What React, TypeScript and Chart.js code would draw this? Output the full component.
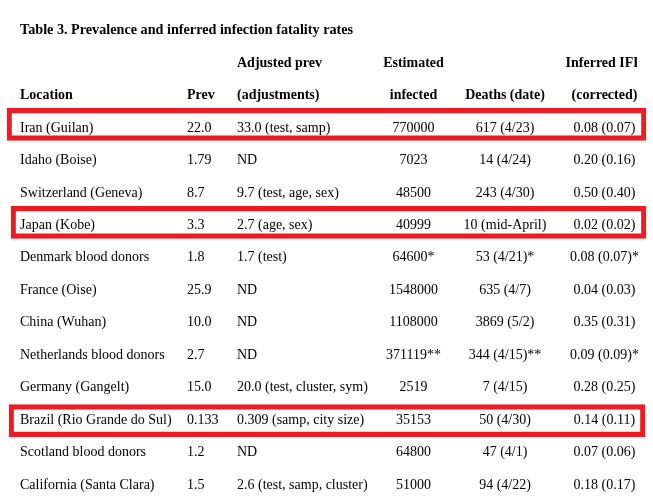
import React, { useEffect, useRef } from "react";
import { Chart, registerables } from "chart.js";

Chart.register(...registerables);

const title = "Table 3. Prevalence and inferred infection fatality rates";

const headerTop = ["", "", "Adjusted prev", "Estimated", "", "Inferred IFR"];
const headerBottom = ["Location", "Prev", "(adjustments)", "infected", "Deaths (date)", "(corrected)"];

const locations = [
  "Iran (Guilan)",
  "Idaho (Boise)",
  "Switzerland (Geneva)",
  "Japan (Kobe)",
  "Denmark blood donors",
  "France (Oise)",
  "China (Wuhan)",
  "Netherlands blood donors",
  "Germany (Gangelt)",
  "Brazil (Rio Grande do Sul)",
  "Scotland blood donors",
  "California (Santa Clara)",
];
const prevalence = ["22.0", "1.79", "8.7", "3.3", "1.8", "25.9", "10.0", "2.7", "15.0", "0.133", "1.2", "1.5"];
const adjustedPrev = [
  "33.0 (test, samp)",
  "ND",
  "9.7 (test, age, sex)",
  "2.7 (age, sex)",
  "1.7 (test)",
  "ND",
  "ND",
  "ND",
  "20.0 (test, cluster, sym)",
  "0.309 (samp, city size)",
  "ND",
  "2.6 (test, samp, cluster)",
];
const estimatedInfected = ["770000", "7023", "48500", "40999", "64600*", "1548000", "1108000", "371119**", "2519", "35153", "64800", "51000"];
const deathsDate = [
  "617 (4/23)",
  "14 (4/24)",
  "243 (4/30)",
  "10 (mid-April)",
  "53 (4/21)*",
  "635 (4/7)",
  "3869 (5/2)",
  "344 (4/15)**",
  "7 (4/15)",
  "50 (4/30)",
  "47 (4/1)",
  "94 (4/22)",
];
const inferredIFR = [
  "0.08 (0.07)",
  "0.20 (0.16)",
  "0.50 (0.40)",
  "0.02 (0.02)",
  "0.08 (0.07)*",
  "0.04 (0.03)",
  "0.35 (0.31)",
  "0.09 (0.09)*",
  "0.28 (0.25)",
  "0.14 (0.11)",
  "0.07 (0.06)",
  "0.18 (0.17)",
];

// highlighted rows (row index in the full table incl. title + 2 header rows)
const highlightRows = [2.89, 5.91, 12.02];
const highlightSpans: [number, number][] = [
  [7, 646],
  [11, 646],
  [9, 645],
];

// layout (not data)
const columnX = [20, 187, 237, 413.5, 505, 604.5];
const columnAlign: CanvasTextAlign[] = ["left", "left", "left", "center", "center", "center"];
const ROW0 = 30.6;
const ROW_H = 32.45;
const W = 653;
const H = 499;
const FONT = '"Liberation Serif", "Times New Roman", serif';
const RED = "rgb(237,28,36)";

const tablePlugin = {
  id: "tableText",
  afterDraw(chart: any) {
    const { ctx } = chart;
    const xs = chart.scales.x;
    const ys = chart.scales.y;
    ctx.save();
    ctx.fillStyle = "#000";
    ctx.textBaseline = "middle";

    // title
    ctx.font = `bold 14.2px ${FONT}`;
    ctx.textAlign = "left";
    ctx.fillText(title, xs.getPixelForValue(columnX[0]), ys.getPixelForValue(0));

    // header rows
    ctx.font = `bold 14px ${FONT}`;
    for (let c = 0; c < columnX.length; c++) {
      ctx.textAlign = columnAlign[c];
      const px = xs.getPixelForValue(columnX[c]);
      if (headerTop[c]) {
        ctx.save();
        ctx.beginPath();
        ctx.rect(0, 0, 637, H);
        ctx.clip();
        ctx.fillText(headerTop[c], px, ys.getPixelForValue(1));
        ctx.restore();
      }
      if (headerBottom[c]) ctx.fillText(headerBottom[c], px, ys.getPixelForValue(2));
    }

    // body
    ctx.font = `14px ${FONT}`;
    const cols = [locations, prevalence, adjustedPrev, estimatedInfected, deathsDate, inferredIFR];
    for (let c = 0; c < cols.length; c++) {
      ctx.textAlign = columnAlign[c];
      const px = xs.getPixelForValue(columnX[c]);
      cols[c].forEach((txt, r) => {
        ctx.fillText(txt, px, ys.getPixelForValue(r + 3));
      });
    }
    ctx.restore();
  },
};

export default function App() {
  const canvasRef = useRef<HTMLCanvasElement>(null);

  useEffect(() => {
    if (!canvasRef.current) return;
    const yMin = -ROW0 / ROW_H;
    const yMax = yMin + H / ROW_H;
    const chart = new Chart(canvasRef.current, {
      type: "bar",
      data: {
        datasets: [
          {
            data: highlightRows.map((r, i) => ({ y: r, x: highlightSpans[i] })) as any,
            backgroundColor: "rgba(0,0,0,0)",
            borderColor: RED,
            borderWidth: 4.5,
            borderSkipped: false,
            barThickness: 32,
          },
        ],
      },
      options: {
        indexAxis: "y",
        animation: false,
        responsive: true,
        maintainAspectRatio: false,
        layout: { padding: 0 },
        events: [],
        scales: {
          x: { type: "linear", min: 0, max: W, display: false, offset: false },
          y: {
            type: "linear",
            min: yMin,
            max: yMax,
            reverse: true,
            display: false,
            offset: false,
            grid: { offset: false },
          },
        },
        plugins: { legend: { display: false }, tooltip: { enabled: false } },
      },
      plugins: [tablePlugin],
    });
    return () => chart.destroy();
  }, []);

  return (
    <div style={{ position: "fixed", left: 0, top: 0, width: W, height: H, background: "#fff" }}>
      <canvas ref={canvasRef} />
    </div>
  );
}
